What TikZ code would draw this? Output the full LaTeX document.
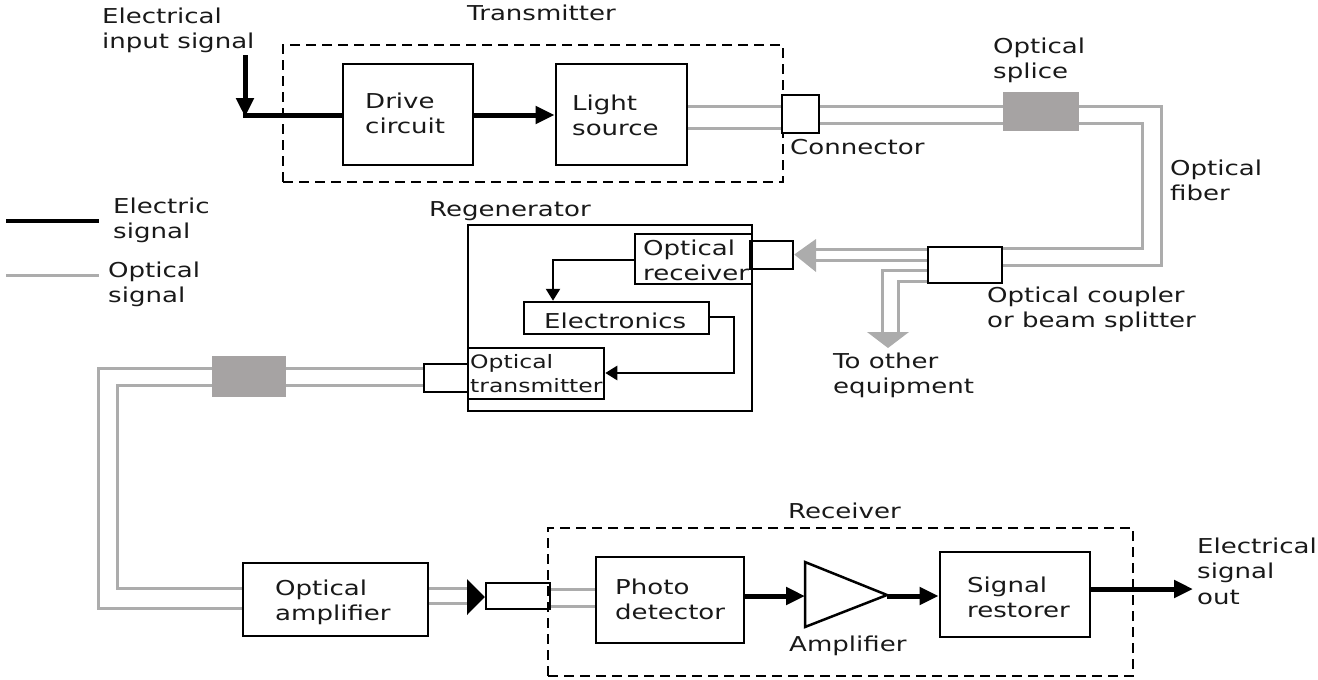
\documentclass[tikz,border=0pt]{standalone}
\usepackage{fontspec}
\setmainfont{DejaVu Sans}[FakeStretch=1.27]
\usetikzlibrary{arrows.meta}
\definecolor{fibc}{RGB}{172,172,172}
\definecolor{splc}{RGB}{166,163,163}
\definecolor{txtc}{RGB}{25,25,25}
\newcommand{\lblfont}{\fontsize{20.5}{25.5}\selectfont}
\newcommand{\smlfont}{\fontsize{18.5}{24}\selectfont}
\begin{document}
\begin{tikzpicture}[x=1pt,y=-1pt,
  box/.style={draw, line width=2.9pt, inner sep=0pt, fill=white},
  rbox/.style={draw, line width=2.5pt, inner sep=0pt},
  splice/.style={fill=splc, inner sep=0pt},
  grp/.style={draw, line width=2.8pt, dash pattern=on 10pt off 6pt, inner sep=0pt},
  lbl/.style={anchor=north west, inner sep=0pt, align=left, font=\lblfont, text=txtc},
  slbl/.style={anchor=north west, inner sep=0pt, align=left, font=\smlfont, text=txtc},
  elec/.style={line width=5pt, -{Triangle[length=19pt,width=17pt]}},
  sig/.style={line width=2.5pt, -{Triangle[length=12pt,width=14pt]}},
  fib/.style={draw=fibc, line width=3pt},
  fhead/.style={fill=fibc},
]
\useasboundingbox (0,0) rectangle (1318,680);

% groups
\node[grp, minimum width=500pt, minimum height=137pt] (txgrp) at (533,113.5) {};
\node[grp, minimum width=585pt, minimum height=148pt] (rxgrp) at (840.5,602) {};

% transmitter boxes
\node[box, minimum width=130pt, minimum height=101pt] (drive) at (408,114.5) {};
\node[box, minimum width=131pt, minimum height=101pt] (light) at (621.5,114.5) {};
\node[rbox, fill=white, minimum width=37pt, minimum height=38pt] (connA) at (800.5,114) {};
\node[splice, minimum width=76pt, minimum height=39pt] (splA) at (1041,111.5) {};
\node[rbox, fill=white, minimum width=74pt, minimum height=36pt] (coupler) at (965,265) {};

% regenerator
\node[rbox, minimum width=284pt, minimum height=186pt] (regen) at (610,318) {};
\node[rbox, minimum width=117pt, minimum height=50pt] (orx) at (693.5,259) {};
\node[rbox, minimum width=43pt, minimum height=28pt] (rxconn) at (771.5,255) {};
\node[rbox, minimum width=185pt, minimum height=32pt] (elec) at (616.5,318) {};
\node[rbox, minimum width=136pt, minimum height=51pt] (otx) at (536,373.5) {};
\node[rbox, minimum width=44pt, minimum height=28pt] (txconn) at (446,378) {};
\node[splice, minimum width=74pt, minimum height=41pt] (splB) at (249,376.5) {};

% receiver side
\node[box, minimum width=185pt, minimum height=73pt] (oamp) at (335.5,599.5) {};
\node[rbox, minimum width=64pt, minimum height=26pt] (connB) at (518,596) {};
\node[box, minimum width=148pt, minimum height=86pt] (pd) at (670,600) {};
\node[box, minimum width=150pt, minimum height=85pt] (rest) at (1015,594.5) {};
\coordinate (ampin) at (805,596);
\coordinate (ampout) at (887,596);
\draw[line width=2.5pt, line join=miter] (805,562) -- (887,595) -- (805,627) -- cycle;

% coordinates
\coordinate (ein) at (245,55);
\coordinate (eout) at (1193,589);
\coordinate (toeq) at (888,348);

% electric connections
\draw[elec] (ein) -- (245,117);
\draw[line width=5pt] (242.5,115) -- (drive.west |- 0,115);
\draw[elec] (drive.east |- 0,115) -- (light.west |- 0,115);
\draw[elec] (pd.east |- 0,596) -- (ampin);
\draw[elec] (ampout) -- (rest.west |- 0,596);
\draw[elec] (rest.east |- 0,589) -- (eout);

% regenerator signals
\draw[sig] (orx.west |- 0,260) -| (553,0 |- elec.north);
\draw[sig] (elec.east |- 0,317) -- (734,317) -- (734,373) -- (otx.east |- 0,373);

% fibers
\draw[fib] (light.east |- 0,106) -- (connA.west |- 0,106);
\draw[fib] (light.east |- 0,128) -- (connA.west |- 0,128);
\draw[fib] (connA.east |- 0,106) -- (splA.west |- 0,106);
\draw[fib] (connA.east |- 0,123) -- (splA.west |- 0,123);
\draw[fib] (splA.east |- 0,106) -- (1161,106) -- (1161,265) -- (coupler.east |- 0,265);
\draw[fib] (splA.east |- 0,123) -- (1142,123) -- (1142,248) -- (coupler.east |- 0,248);
\draw[fib] (coupler.west |- 0,249) -- (812,249);
\draw[fib] (coupler.west |- 0,260) -- (812,260);
\fill[fhead] (816,239) -- (rxconn.east |- 0,254.5) -- (816,272) -- cycle;
\draw[fib] (coupler.west |- 0,270) -- (882,270) -- (882,334);
\draw[fib] (coupler.west |- 0,281) -- (898,281) -- (898,334);
\fill[fhead] (867,332) -- (909,332) -- (toeq) -- cycle;
\draw[fib] (txconn.west |- 0,368) -- (splB.east |- 0,368);
\draw[fib] (txconn.west |- 0,385) -- (splB.east |- 0,385);
\draw[fib] (splB.west |- 0,368) -- (98,368) -- (98,608) -- (oamp.west |- 0,608);
\draw[fib] (splB.west |- 0,385) -- (117,385) -- (117,588) -- (oamp.west |- 0,588);
\draw[fib] (oamp.east |- 0,588) -- (468,588);
\draw[fib] (oamp.east |- 0,603) -- (468,603);
\fill (467,579) -- (connB.west |- 0,597) -- (467,615) -- cycle;
\draw[fib] (connB.east |- 0,589) -- (pd.west |- 0,589);
\draw[fib] (connB.east |- 0,606) -- (pd.west |- 0,606);

% legend
\draw[line width=3.2pt] (6,221) -- (99,221);
\draw[fib] (6,275) -- (99,275);

% labels
\node[lbl] (l-ein) at (102,7.5) {Electrical\\input signal};
\node[lbl] (l-tx) at (467,4.5) {Transmitter};
\node[lbl] (l-drive) at (365,92.5) {Drive\\circuit};
\node[lbl] (l-light) at (572,94.5) {Light\\source};
\node[lbl] (l-conn) at (790,139.5) {Connector};
\node[lbl] (l-spl) at (993,37.5) {Optical\\splice};
\node[lbl] (l-fib) at (1170,159.5) {Optical\\fiber};
\node[lbl] (l-lege) at (113,197.5) {Electric\\signal};
\node[lbl] (l-lego) at (108,261.5) {Optical\\signal};
\node[lbl] (l-regen) at (429,201.5) {Regenerator};
\node[lbl] (l-orx) at (643,239.5) {Optical\\receiver};
\node[lbl] (l-elec) at (544,312.5) {Electronics};
\node[slbl] (l-otx) at (470,354) {Optical\\transmitter};
\node[lbl] (l-coup) at (987,286.5) {Optical coupler\\or beam splitter};
\node[lbl] (l-toeq) at (833,352.5) {To other\\equipment};
\node[lbl] (l-oamp) at (275,579.5) {Optical\\amplifier};
\node[lbl] (l-rx) at (788,502.5) {Receiver};
\node[lbl] (l-pd) at (615,578.5) {Photo\\detector};
\node[lbl] (l-amp) at (789,635.5) {Amplifier};
\node[lbl] (l-rest) at (967,576.5) {Signal\\restorer};
\node[lbl] (l-eout) at (1197,537.5) {Electrical\\signal\\out};
\end{tikzpicture}
\end{document}
